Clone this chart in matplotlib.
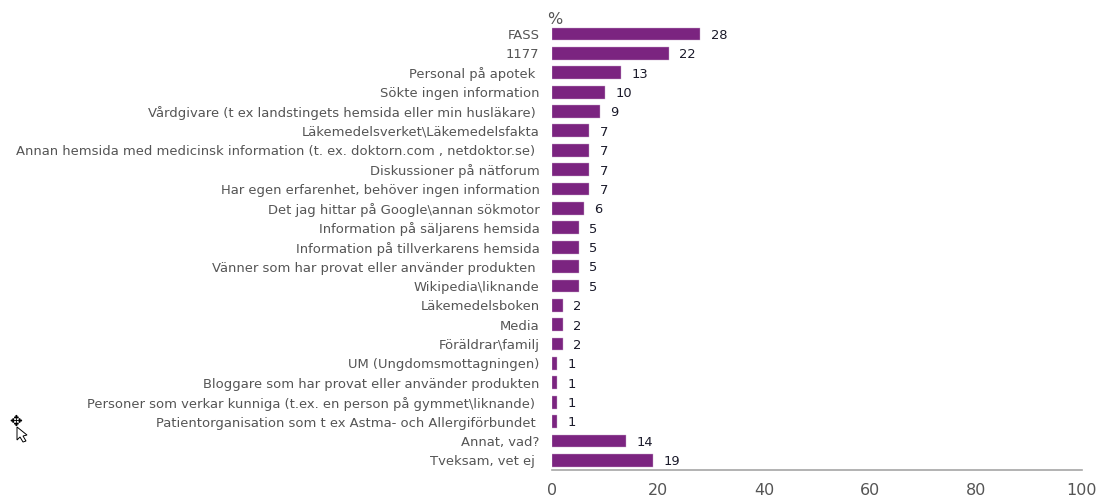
import matplotlib
matplotlib.use("Agg")
import matplotlib.pyplot as plt
from matplotlib.patches import Polygon

kategorier = ["FASS", "1177", "Personal på apotek ", "Sökte ingen information",
              "Vårdgivare (t ex landstingets hemsida eller min husläkare) ",
              "Läkemedelsverket\\Läkemedelsfakta",
              "Annan hemsida med medicinsk information (t. ex. doktorn.com , netdoktor.se) ",
              "Diskussioner på nätforum", "Har egen erfarenhet, behöver ingen information",
              "Det jag hittar på Google\\annan sökmotor", "Information på säljarens hemsida",
              "Information på tillverkarens hemsida",
              "Vänner som har provat eller använder produkten ", "Wikipedia\\liknande",
              "Läkemedelsboken", "Media", "Föräldrar\\familj", "UM (Ungdomsmottagningen)",
              "Bloggare som har provat eller använder produkten",
              "Personer som verkar kunniga (t.ex. en person på gymmet\\liknande) ",
              "Patientorganisation som t ex Astma- och Allergiförbundet ",
              "Annat, vad?", "Tveksam, vet ej "]
varden = [28, 22, 13, 10, 9, 7, 7, 7, 7, 6, 5, 5, 5, 5, 2, 2, 2, 1, 1, 1, 1, 14, 19]
xticks = [0, 20, 40, 60, 80, 100]

W, H = 1099, 497
fig = plt.figure(figsize=(W / 100, H / 100), dpi=100)
ax = fig.add_axes([552 / W, 1 - 470 / H, 530 / W, (470 - 24.3) / H])

pos = list(range(len(varden)))
ax.barh(pos, varden, height=0.66, color="#7b2480", edgecolor="#c9a9cc", linewidth=0.3)
ax.set_ylim(len(varden) - 0.5, -0.5)
ax.set_xlim(0, 100)

ax.set_yticks(pos)
ax.set_yticklabels(kategorier, fontsize=9.45, color="#555555")
ax.set_xticks(xticks)
ax.tick_params(axis="y", length=0, pad=9)
ax.tick_params(axis="x", length=0, pad=9.5, labelsize=11.5, labelcolor="#555555")

for s in ["top", "right", "left"]:
    ax.spines[s].set_visible(False)
ax.spines["bottom"].set_color("#a6a6a6")
ax.spines["bottom"].set_linewidth(1.2)

for p, v in zip(pos, varden):
    ax.annotate(str(v), (v, p), xytext=(7.6, -1), textcoords="offset points",
                va="center", ha="left", fontsize=9.4, color="#1a1a2a")

fig.text(547 / W, 1 - 19 / H, "%", fontsize=11.5, color="#555555", va="center", ha="left")

# muspekaren i bilden
fig.text(16 / W, 1 - 421 / H, "✥", fontsize=11, color="black", va="center", ha="center")
pil = [(17, 427), (17, 440), (20, 437), (23, 442), (26, 441), (23, 436), (27, 435)]
fig.add_artist(Polygon([(x / W, 1 - y / H) for x, y in pil], closed=True, transform=fig.transFigure,
                       facecolor="white", edgecolor="black", linewidth=0.7))

fig.savefig("out.png", dpi=100)
